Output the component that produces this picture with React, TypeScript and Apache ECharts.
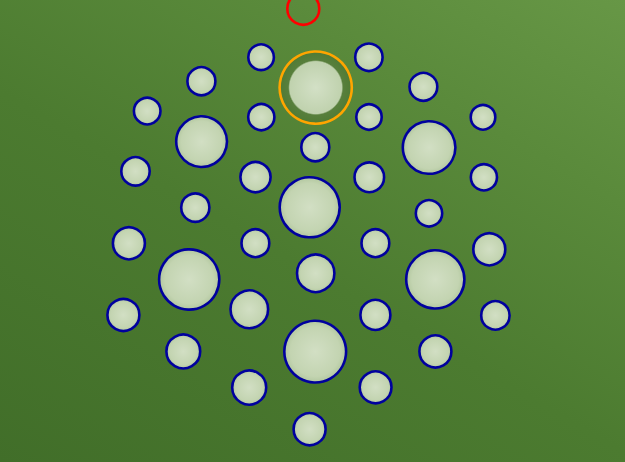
import React, { useEffect, useRef } from "react";
import * as echarts from "echarts";

// Circle markers: [x, y, radius] in image coordinates
const redPoints: number[][] = [[303.3, 8.7, 17.3]];
const orangePoints: number[][] = [[315.7, 87.6, 37.4]];
const bluePoints: number[][] = [
  [261.1, 57.2, 14.1],
  [368.9, 57.3, 15.0],
  [201.4, 81.2, 15.3],
  [423.4, 86.8, 15.2],
  [147.2, 111.1, 14.6],
  [261.3, 117.1, 14.4],
  [369.0, 117.0, 14.0],
  [483.0, 117.3, 13.6],
  [201.6, 141.6, 26.7],
  [315.3, 147.2, 15.3],
  [429.1, 147.5, 27.6],
  [135.5, 171.3, 15.5],
  [255.5, 177.1, 16.4],
  [369.3, 177.3, 16.1],
  [483.9, 177.3, 14.4],
  [195.3, 207.6, 15.4],
  [309.7, 207.3, 31.3],
  [429.0, 213.3, 14.5],
  [128.9, 243.3, 17.3],
  [255.4, 243.2, 15.2],
  [375.4, 243.2, 15.2],
  [489.3, 249.3, 17.3],
  [189.2, 279.5, 31.4],
  [315.7, 273.3, 20.0],
  [435.3, 279.4, 30.4],
  [123.4, 315.0, 17.3],
  [249.3, 309.3, 20.1],
  [375.4, 314.9, 16.3],
  [495.4, 315.4, 15.5],
  [183.3, 351.4, 18.2],
  [315.2, 351.6, 32.2],
  [435.4, 351.4, 17.3],
  [249.2, 387.6, 18.3],
  [375.6, 387.3, 17.2],
  [309.6, 429.2, 17.3],
];

const IMG_W = 625;
const IMG_H = 462;
const LINE_W = 2.6;

const sizeOf = (v: number[]) => v[2] * 2 - LINE_W;

const discFill = {
  type: "radial",
  x: 0.5,
  y: 0.5,
  r: 0.5,
  colorStops: [
    { offset: 0, color: "#d2dfc4" },
    { offset: 0.8, color: "#c3d4b1" },
    { offset: 1, color: "#b2c79f" },
  ],
};

const orangeFill = {
  type: "radial",
  x: 0.5,
  y: 0.5,
  r: 0.5,
  colorStops: [
    { offset: 0, color: "#d3e0c6" },
    { offset: 0.72, color: "#c0d2ae" },
    { offset: 0.76, color: "#587f3c" },
    { offset: 1, color: "#4f7b34" },
  ],
};

export default function App() {
  const ref = useRef<HTMLDivElement>(null);
  useEffect(() => {
    if (!ref.current) return;
    const chart = echarts.init(ref.current, null, { renderer: "svg" });
    chart.setOption({
      animation: false,
      backgroundColor: "transparent",
      grid: { left: 0, right: 0, top: 0, bottom: 0 },
      xAxis: { type: "value", min: 0, max: IMG_W, show: false },
      yAxis: { type: "value", min: 0, max: IMG_H, inverse: true, show: false },
      series: [
        {
          type: "scatter",
          name: "blue",
          symbol: "circle",
          data: bluePoints,
          symbolSize: sizeOf,
          itemStyle: { color: discFill, borderColor: "#00009e", borderWidth: LINE_W, opacity: 1 },
        },
        {
          type: "scatter",
          name: "orange",
          symbol: "circle",
          data: orangePoints,
          symbolSize: sizeOf,
          itemStyle: { color: orangeFill, borderColor: "#ffa500", borderWidth: LINE_W, opacity: 1 },
        },
        {
          type: "scatter",
          name: "red",
          symbol: "circle",
          data: redPoints,
          symbolSize: sizeOf,
          itemStyle: { color: "rgba(0,0,0,0)", borderColor: "#ff0000", borderWidth: LINE_W, opacity: 1 },
        },
      ],
    });
    return () => chart.dispose();
  }, []);
  return (
    <div
      ref={ref}
      style={{
        position: "fixed",
        left: 0,
        top: 0,
        width: IMG_W,
        height: IMG_H,
        background: "linear-gradient(30deg, #416e29 0%, #4c7b30 45%, #5a8a3b 75%, #679746 100%)",
      }}
    />
  );
}
